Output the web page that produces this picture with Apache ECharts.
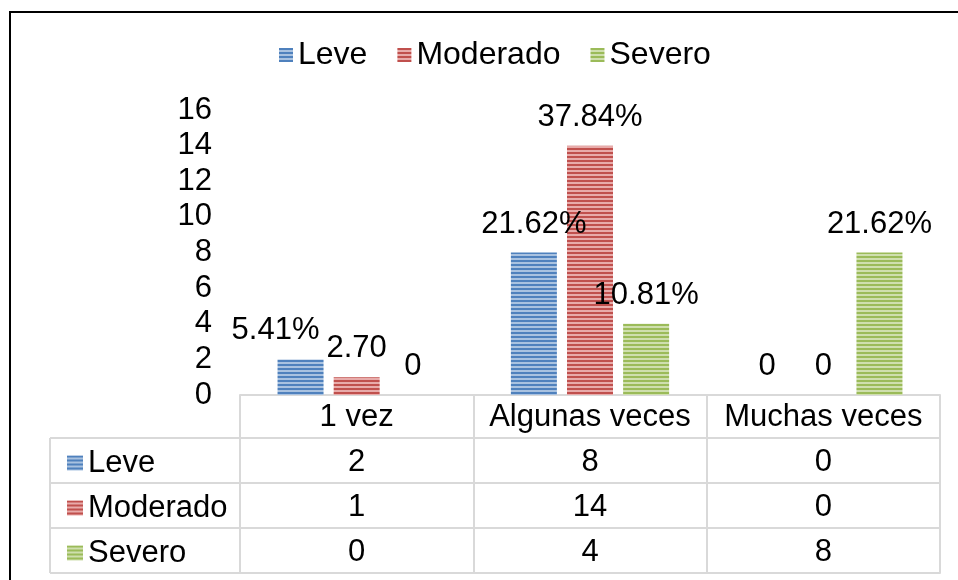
<!DOCTYPE html>
<html>
<head>
<meta charset="utf-8">
<script src="https://cdn.jsdelivr.net/npm/echarts@6/dist/echarts.min.js"></script>
<style>
html,body{margin:0;padding:0;background:#fff;}
#chart{width:958px;height:580px;}
</style>
</head>
<body>
<div id="chart"></div>
<script>
var categorias = ['1 vez', 'Algunas veces', 'Muchas veces'];
var leve = [2, 8, 0];
var moderado = [1, 14, 0];
var severo = [0, 4, 8];
// etiquetas tal como aparecen en el grafico
var etqLeve = ['5.41%', '21.62%', '0'];
var etqModerado = ['2.70', '37.84%', '0'];
var etqSevero = ['0', '10.81%', '21.62%'];
var yTicks = [0, 2, 4, 6, 8, 10, 12, 14, 16];

var fuente = "'Liberation Sans', Arial, sans-serif";
var gris = '#d9d9d9';

// relleno rayado tipo excel
function rayas(base, claro) {
    var c = document.createElement('canvas');
    c.width = 4; c.height = 4;
    var ctx = c.getContext('2d');
    ctx.fillStyle = claro;
    ctx.fillRect(0, 0, 4, 4);
    ctx.fillStyle = base;
    ctx.fillRect(0, 0, 4, 2);
    return {image: c, repeat: 'repeat'};
}
var colAzul = rayas('#4f81bd', '#a9c2e0');
var colRojo = rayas('#c0504d', '#e8abaa');
var colVerde = rayas('#9bbb59', '#cfdfae');

var chart = echarts.init(document.getElementById('chart'));

function filaEje(offset, datos) {
    return {
        type: 'category',
        data: categorias,
        position: 'bottom',
        offset: offset,
        axisLine: {show: true, lineStyle: {color: gris, width: 2}},
        axisTick: {show: false},
        axisLabel: {
            show: datos != null,
            interval: 0,
            margin: 24,
            verticalAlign: 'middle',
            fontFamily: fuente,
            fontSize: 31,
            color: '#000',
            formatter: function (v, i) { return datos ? String(datos[i]) : ''; }
        }
    };
}

function serie(nombre, datos, etq, color, ajustes) {
    return {
        name: nombre,
        type: 'bar',
        barWidth: 46,
        barGap: '22%',
        data: datos.map(function (v, i) {
            var d = {value: v};
            if (ajustes && ajustes[i]) d.label = {offset: ajustes[i]};
            return d;
        }),
        itemStyle: {color: color},
        label: {
            show: true,
            position: 'top',
            distance: 13,
            fontFamily: fuente,
            fontSize: 31,
            color: '#000',
            formatter: function (p) { return etq[p.dataIndex]; }
        }
    };
}

var option = {
    animation: false,
    grid: {left: 240, right: 18, top: 110, bottom: 185},
    legend: [{
        data: ['Leve', 'Moderado', 'Severo'],
        left: 274,
        top: 32,
        itemWidth: 14,
        itemHeight: 14,
        itemGap: 30,
        icon: 'rect',
        textStyle: {fontFamily: fuente, fontSize: 32, color: '#000', lineHeight: 36}
    }, {
        data: ['Leve', 'Moderado', 'Severo'],
        orient: 'vertical',
        left: 62,
        top: 440,
        itemWidth: 16,
        itemHeight: 15,
        itemGap: 9,
        icon: 'rect',
        textStyle: {fontFamily: fuente, fontSize: 31, color: '#000', lineHeight: 36}
    }],
    xAxis: [{
        type: 'category',
        data: categorias,
        axisLine: {show: true, lineStyle: {color: gris, width: 2}},
        axisTick: {show: true, interval: 0, length: 178, lineStyle: {color: gris, width: 2}},
        axisLabel: {
            interval: 0,
            margin: 22,
            verticalAlign: 'middle',
            fontFamily: fuente,
            fontSize: 31,
            color: '#000'
        }
    },
        filaEje(43, leve),
        filaEje(88, moderado),
        filaEje(133, severo),
        filaEje(178, null)
    ],
    yAxis: {
        type: 'value',
        min: yTicks[0],
        max: yTicks[yTicks.length - 1],
        interval: 2,
        axisLine: {show: false},
        axisTick: {show: false},
        splitLine: {show: false},
        axisLabel: {margin: 28, fontFamily: fuente, fontSize: 31, color: '#000'}
    },
    series: [
        serie('Leve', leve, etqLeve, colAzul, [[-25, 0]]),
        serie('Moderado', moderado, etqModerado, colRojo),
        serie('Severo', severo, etqSevero, colVerde)
    ],
    graphic: [
        {type: 'rect', shape: {x: 10, y: 12, width: 1200, height: 1200}, style: {fill: 'none', stroke: '#000', lineWidth: 2}},
        {type: 'line', shape: {x1: 50, y1: 438, x2: 50, y2: 573}, style: {stroke: gris, lineWidth: 2}},
        {type: 'line', shape: {x1: 50, y1: 438, x2: 240, y2: 438}, style: {stroke: gris, lineWidth: 2}},
        {type: 'line', shape: {x1: 50, y1: 483, x2: 240, y2: 483}, style: {stroke: gris, lineWidth: 2}},
        {type: 'line', shape: {x1: 50, y1: 528, x2: 240, y2: 528}, style: {stroke: gris, lineWidth: 2}},
        {type: 'line', shape: {x1: 50, y1: 573, x2: 240, y2: 573}, style: {stroke: gris, lineWidth: 2}}
    ]
};
chart.setOption(option);
</script>
</body>
</html>
